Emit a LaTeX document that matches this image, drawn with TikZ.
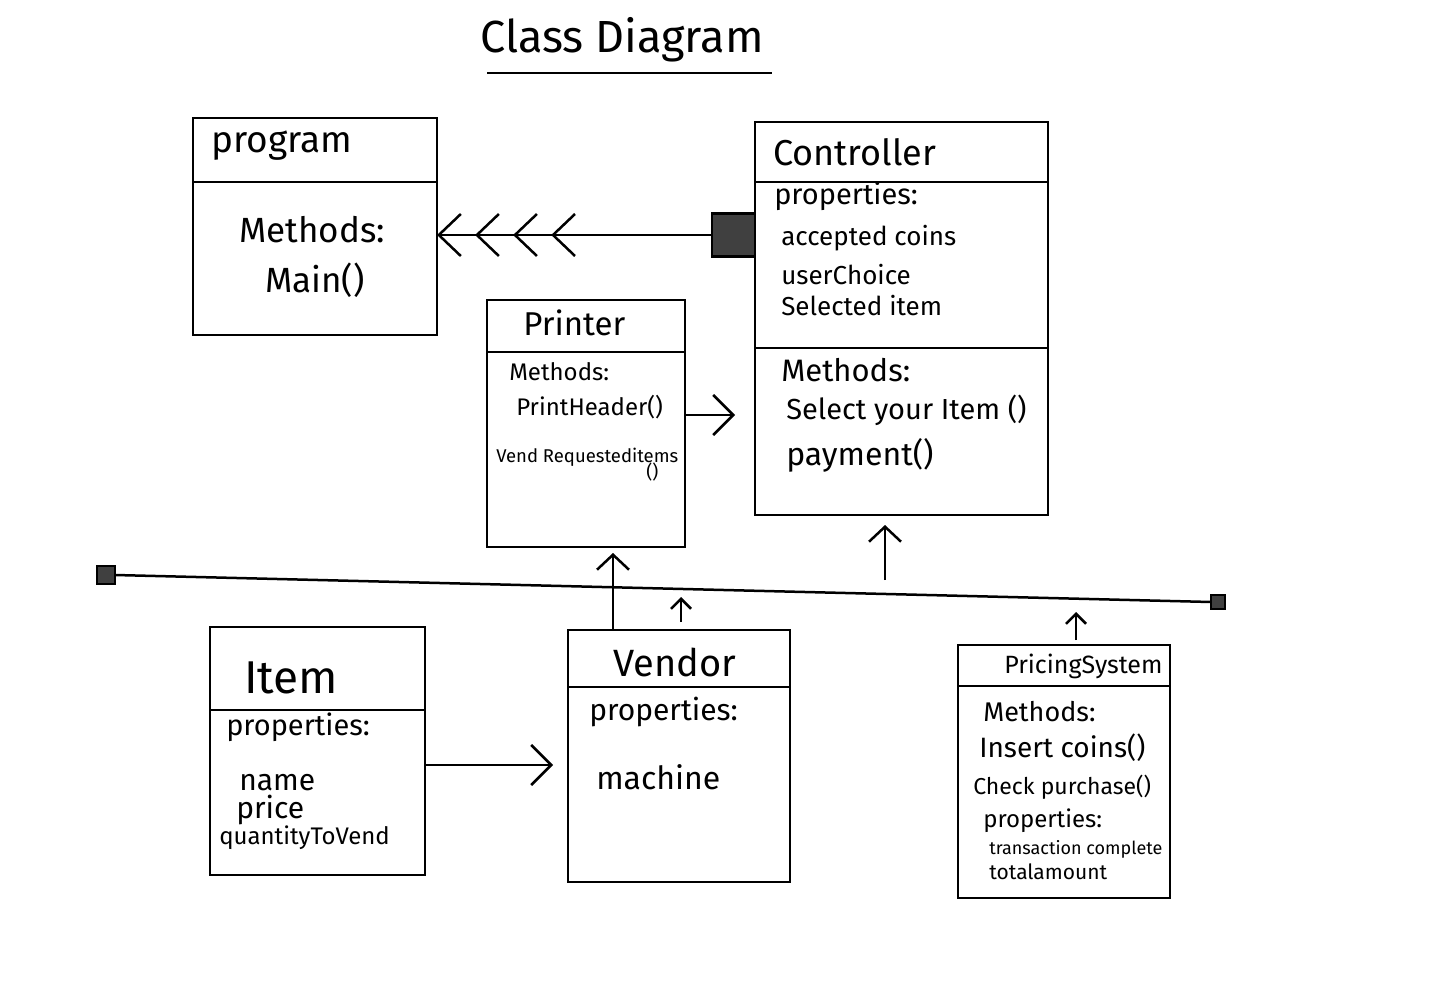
\documentclass[tikz,border=0pt]{standalone}
\usepackage{fontspec}
\setmainfont{Fira Sans}
\usetikzlibrary{arrows.meta}
\begin{document}
\begin{tikzpicture}[x=1pt,y=-1pt,line width=2.5pt,
  box/.style={draw,anchor=north west,inner sep=0pt,outer sep=0pt},
  hsq/.style={draw,fill=black!75,inner sep=0pt,outer sep=0pt,minimum size=#1},
  lbl/.style={anchor=west,inner sep=0pt},
  fs/.style={font=\fontsize{#1}{#1}\selectfont},
  bigarr/.style={-{Straight Barb[length=20pt,width=40pt,line width=2.5pt]}},
  midarr/.style={-{Straight Barb[length=15pt,width=32pt,line width=2.5pt]}},
  smallarr/.style={-{Straight Barb[length=10pt,width=20pt,line width=2.5pt]}},
  chev/.style={-{Straight Barb[length=22pt,width=42pt,sep=13pt,line width=2.5pt]Straight Barb[length=22pt,width=42pt,sep=13pt,line width=2.5pt]Straight Barb[length=22pt,width=42pt,sep=13pt,line width=2.5pt]Straight Barb[length=22pt,width=42pt,line width=2.5pt]}}
]
\useasboundingbox (0,0) rectangle (1439,1000);

% title
\node[fs=45,anchor=center,inner sep=0pt] (title) at (622,40) {Class Diagram};
\draw (487,73) -- (772,73);

% program
\node[box,minimum width=244pt,minimum height=217pt] (program) at (193,118) {};
\draw (193,182) -- (437,182);
\node[lbl,fs=37] (pname) at (210,146) {program};
\node[fs=35,anchor=center,inner sep=0pt] (pm1) at (312,230) {Methods:};
\node[fs=35,anchor=center,inner sep=0pt] (pm2) at (315,280) {Main()};

% Controller
\node[box,minimum width=293pt,minimum height=393pt] (ctrl) at (755,122) {};
\draw (755,182) -- (1048,182);
\draw (755,348) -- (1048,348);
\node[lbl,fs=36] (cname) at (772,152) {Controller};
\node[lbl,fs=29] (c1) at (773,196) {properties:};
\node[lbl,fs=26] (c2) at (780,238) {accepted coins};
\node[lbl,fs=26] (c3) at (780,275) {userChoice};
\node[lbl,fs=26] (c4) at (780,306) {Selected item};
\node[lbl,fs=31] (c5) at (780,370) {Methods:};
\node[lbl,fs=29] (c6) at (785,410) {Select your Item ()};
\node[lbl,fs=32] (c7) at (785,455) {payment()};

% composition square and chevron connector
\node[hsq=43pt,anchor=east] (csq) at (ctrl.west |- 0,235) {};
\draw[chev] (csq.west) -- (program.east |- csq.west);

% Printer
\node[box,minimum width=198pt,minimum height=247pt] (printer) at (487,300) {};
\draw (487,352) -- (685,352);
\node[lbl,fs=33] (prname) at (522,323) {Printer};
\node[lbl,fs=24] (pr1) at (508,372) {Methods:};
\node[lbl,fs=24] (pr2) at (515,407) {PrintHeader()};
\node[lbl,fs=18.5] (pr3) at (495,457) {Vend Requesteditems};
\node[lbl,fs=18.5] (pr4) at (645,472) {()};
\coordinate (prtip) at (735,415);
\draw[bigarr] (printer.east |- prtip) -- (prtip);

% long line with end squares
\node[hsq=18pt] (lsq) at (106,575) {};
\node[hsq=14pt] (rsq) at (1218,602) {};
\draw (lsq.east) -- (rsq.west);

% Item
\node[box,minimum width=215pt,minimum height=248pt] (item) at (210,627) {};
\draw (210,710) -- (425,710);
\node[lbl,fs=46] (iname) at (243,678) {Item};
\node[lbl,fs=29] (i1) at (225,727) {properties:};
\node[lbl,fs=30] (i2) at (238,783) {name};
\node[lbl,fs=30] (i3) at (235,810) {price};
\node[lbl,fs=24] (i4) at (218,838) {quantityToVend};

% Vendor
\node[box,minimum width=222pt,minimum height=252pt] (vendor) at (568,630) {};
\draw (568,687) -- (790,687);
\node[lbl,fs=38] (vname) at (612,662) {Vendor};
\node[lbl,fs=30] (v1) at (588,712) {properties:};
\node[lbl,fs=32] (v2) at (595,777) {machine};

% PricingSystem
\node[box,minimum width=212pt,minimum height=253pt] (price) at (958,645) {};
\draw (958,686) -- (1170,686);
\node[lbl,fs=25] (sname) at (1003,666) {PricingSystem};
\node[lbl,fs=27] (s1) at (982,712) {Methods:};
\node[lbl,fs=28] (s2) at (978,748) {Insert coins()};
\node[lbl,fs=23] (s3) at (972,787) {Check purchase()};
\node[lbl,fs=24] (s4) at (982,821) {properties:};
\node[lbl,fs=18] (s5) at (988,849) {transaction complete};
\node[lbl,fs=21] (s6) at (988,872) {totalamount};

% connectors
\coordinate (itip) at (553,765);
\draw[bigarr] (item.east |- itip) -- (itip);
\draw[midarr] (vendor.north -| 613,0) -- (613,553);
\coordinate (va1) at (681,622);
\coordinate (va2) at (681,597);
\draw[smallarr] (va1) -- (va2);
\coordinate (ca1) at (885,580);
\coordinate (ca2) at (885,525);
\draw[midarr] (ca1) -- (ca2);
\coordinate (pa1) at (1076,640);
\coordinate (pa2) at (1076,612);
\draw[smallarr] (pa1) -- (pa2);
\end{tikzpicture}
\end{document}
